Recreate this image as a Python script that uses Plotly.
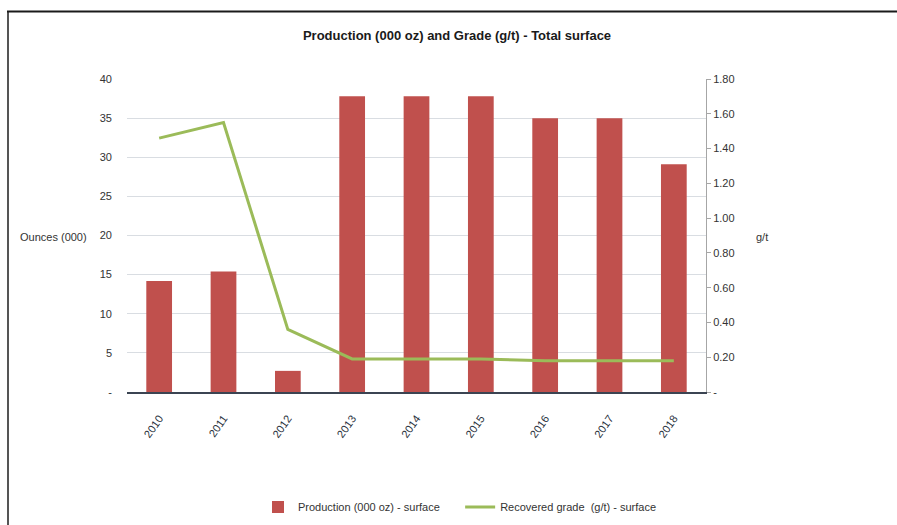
import plotly.graph_objects as go

years = ["2010", "2011", "2012", "2013", "2014", "2015", "2016", "2017", "2018"]
production = [14.2, 15.4, 2.7, 37.8, 37.8, 37.8, 35.0, 35.0, 29.1]
grade = [1.46, 1.55, 0.36, 0.19, 0.19, 0.19, 0.18, 0.18, 0.18]

left_ticks = [0, 5, 10, 15, 20, 25, 30, 35, 40]
left_labels = ["-", "5", "10", "15", "20", "25", "30", "35", "40"]
right_ticks = [0, 0.2, 0.4, 0.6, 0.8, 1.0, 1.2, 1.4, 1.6, 1.8]
right_labels = ["-", "0.20", "0.40", "0.60", "0.80", "1.00", "1.20", "1.40", "1.60", "1.80"]

FONT = "Liberation Sans Narrow, Arial Narrow, Liberation Sans, Arial, sans-serif"

fig = go.Figure()
fig.add_trace(go.Bar(
    x=years, y=production, name="Production (000 oz) - surface     ",
    marker=dict(color="#C0504D", line=dict(width=0)), yaxis="y",
))
fig.add_trace(go.Scatter(
    x=years, y=grade, name="Recovered grade  (g/t) - surface",
    mode="lines", line=dict(color="#9BBB59", width=3), yaxis="y2",
))

L, R, T, B = 127, 191, 79, 133
W, H = 897, 525
pw, ph = W - L - R, H - T - B

def px(x):
    return (x - L) / pw

def py(y):
    return (H - B - y) / ph

fig.update_layout(
    width=W, height=H,
    margin=dict(l=L, r=R, t=T, b=B, pad=0, autoexpand=False),
    paper_bgcolor="white", plot_bgcolor="white",
    font=dict(family=FONT, size=11, color="#333333"),
    title=dict(text="<b>Production (000 oz) and Grade (g/t) - Total surface</b>",
               xref="container", x=457 / W, xanchor="center",
               yref="container", y=1 - 35 / H, yanchor="middle",
               font=dict(size=13, color="#1a1a1a", family=FONT)),
    bargap=0.6,
    showlegend=True,
    legend=dict(orientation="h", x=px(460), xanchor="center", y=py(507), yanchor="middle",
                font=dict(size=11, color="#333333"), itemwidth=30, tracegroupgap=0),
    xaxis=dict(
        tickangle=-55, showgrid=False, showline=True, linecolor="#3b4452", linewidth=1.5,
        ticks="", ticklabelstandoff=14, automargin=False,
        tickfont=dict(size=11, color="#2b3340"),
    ),
    yaxis=dict(
        range=[0, 40], tickvals=left_ticks, ticktext=left_labels,
        showgrid=True, gridcolor="#d9dde2", gridwidth=1, zeroline=False,
        showline=False, ticks="", ticklabelstandoff=14, automargin=False,
        tickfont=dict(size=11, color="#333333"),
    ),
    yaxis2=dict(
        range=[0, 1.8], tickvals=right_ticks, ticktext=right_labels,
        overlaying="y", side="right", showgrid=False, zeroline=False,
        showline=True, linecolor="#a6a6a6", linewidth=1, automargin=False,
        ticks="outside", ticklen=4, tickcolor="#a6a6a6",
        tickfont=dict(size=11, color="#333333"),
    ),
    annotations=[
        dict(text="Ounces (000)", x=px(53), y=py(237), xref="paper", yref="paper",
             showarrow=False, xanchor="center", yanchor="middle", font=dict(size=11, color="#333333")),
        dict(text="g/t", x=px(762), y=py(237), xref="paper", yref="paper",
             showarrow=False, xanchor="center", yanchor="middle", font=dict(size=11, color="#333333")),
    ],
    shapes=[
        dict(type="line", xref="paper", yref="paper", x0=px(8), x1=px(8), y0=py(530), y1=py(11.5),
             line=dict(color="#555555", width=2)),
        dict(type="line", xref="paper", yref="paper", x0=px(7), x1=px(900), y0=py(11.5), y1=py(11.5),
             line=dict(color="#1a1a1a", width=2)),
    ],
)

fig.write_html("out.html")
